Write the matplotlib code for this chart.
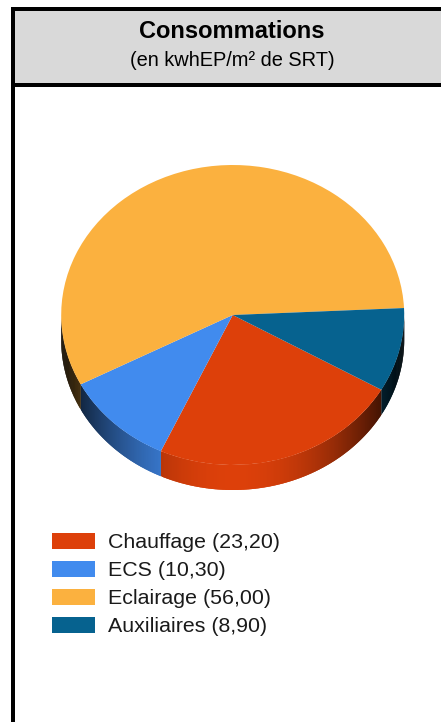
import matplotlib
matplotlib.use("Agg")
import matplotlib.pyplot as plt
from matplotlib.patches import Rectangle, Polygon
from matplotlib.colors import to_rgb
import numpy as np

# data
labels = ["Chauffage", "ECS", "Eclairage", "Auxiliaires"]
values = [23.20, 10.30, 56.00, 8.90]
colors = ["#dd400a", "#418bee", "#fbb13f", "#06628f"]
title = "Consommations"
subtitle = "(en kwhEP/m² de SRT)"

W, H = 441, 722
fig = plt.figure(figsize=(W / 100, H / 100), dpi=100)


def box(x0, y0, x1, y1):
    # pixels from the top-left corner -> figure fraction [l, b, w, h]
    return [x0 / W, 1 - y1 / H, (x1 - x0) / W, (y1 - y0) / H]


def rect(x0, y0, x1, y1, c):
    l, b, w, h = box(x0, y0, x1, y1)
    fig.add_artist(Rectangle((l, b), w, h, transform=fig.transFigure,
                             facecolor=c, edgecolor="none"))


# header frame
rect(14, 10, 441, 83, "#d9d9d9")
rect(11, 7, 441, 10.5, "black")
rect(11, 83, 441, 87, "black")
rect(11, 7, 14.5, 722, "black")

fig.text(232 / W, 1 - 31 / H, title, ha="center", va="center",
         fontsize=17, fontweight="bold", family="Liberation Sans")
fig.text(232 / W, 1 - 61 / H, subtitle, ha="center", va="center",
         fontsize=14.4, family="Liberation Sans")

# pie, squashed into an ellipse
cx, cy, rx, ry, depth = 232.7, 315, 171.5, 150, 25
ax = fig.add_axes(box(cx - 1.2 * rx, cy - 1.2 * ry, cx + 1.2 * rx, cy + 1.4 * ry))
wedges, _ = ax.pie(values, colors=colors, startangle=-29.9, counterclock=False,
                   wedgeprops=dict(linewidth=0), radius=1)
ax.set_aspect("auto")
ax.set_xlim(-1.2, 1.2)
ax.set_ylim(-1.4, 1.2)
ax.axis("off")

# side walls for the front half (strips overlap a bit to hide seams)
d = depth / ry
for w, c in zip(wedges, colors):
    base = np.array(to_rgb(c))
    angs = np.append(np.arange(w.theta1, w.theta2, 0.5), w.theta2)
    for a, b in zip(angs[:-1], angs[1:]):
        m = ((a + b) / 2) % 360
        if m < 180:
            continue
        f = max(np.cos(np.radians(m - 270)), 0) ** 2
        col = base * (0.08 + 0.92 * f)
        ra, rb = np.radians(a), np.radians(min(b + 0.6, w.theta2))
        t = np.linspace(ra, rb, 4)
        top = np.column_stack([np.cos(t), np.sin(t)])
        bot = top[::-1] - [0, d]
        ax.add_patch(Polygon(np.vstack([top, bot]), closed=True,
                             facecolor=col, edgecolor="none", zorder=0.5))

# legend
leg_labels = [f"{l} ({v:.2f})".replace(".", ",") for l, v in zip(labels, values)]
fs = 15.4
px = fs * 100 / 72
fig.legend(wedges, leg_labels, loc="upper left",
           bbox_to_anchor=(51.7 / W, 1 - 532.5 / H), frameon=False,
           prop=dict(family="Liberation Sans", size=fs), labelcolor="#1a1a1a",
           handlelength=43 / px, handleheight=17 / px, handletextpad=13 / px,
           labelspacing=0.40, borderpad=0, borderaxespad=0)

fig.savefig("out.png", dpi=100)
